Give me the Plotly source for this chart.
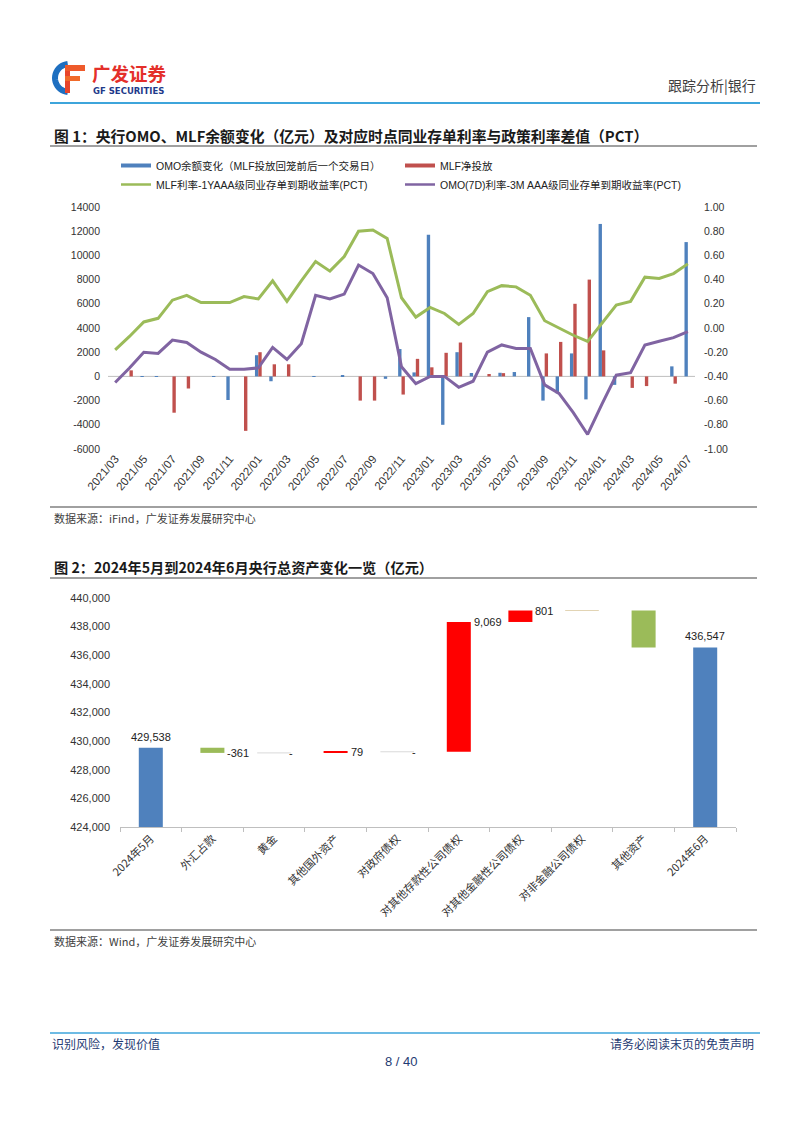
import plotly.graph_objects as go
import math

W, H = 802, 1133
# the page renders the figure 8px in from the top-left corner (body margin); compensate
OX, OY = 8, 8


def X(px):
    return (px - OX) / W


def Y(py):
    return 1 - (py - OY) / H


# ---------------- Chart 1 data ----------------
months = ["2021/03", "2021/04", "2021/05", "2021/06", "2021/07", "2021/08", "2021/09", "2021/10",
          "2021/11", "2021/12", "2022/01", "2022/02", "2022/03", "2022/04", "2022/05", "2022/06",
          "2022/07", "2022/08", "2022/09", "2022/10", "2022/11", "2022/12", "2023/01", "2023/02",
          "2023/03", "2023/04", "2023/05", "2023/06", "2023/07", "2023/08", "2023/09", "2023/10",
          "2023/11", "2023/12", "2024/01", "2024/02", "2024/03", "2024/04", "2024/05", "2024/06",
          "2024/07"]

omo_change = [0, 0, -50, -50, 0, 0, 0, -50, -1950, 0, 1750, -400, 0, 0, -50, 0, 50, 0, 0, -200,
              2260, 330, 11700, -4000, 2000, 280, 0, 300, 360, 4900, -2000, -1400, 1900, -1900,
              12600, -700, 0, 0, 0, 830, 11100]

mlf_net = [0, 500, 0, 0, -3000, -1000, 0, 0, 0, -4500, 2000, 1000, 1000, 0, 0, 0, 0, -2000, -2000,
           0, -1500, 1450, 750, 1950, 2800, 0, 200, 270, 0, 0, 1900, 2850, 6000, 8000, 2150, 0,
           -950, -800, 0, -600, 0]

mlf_spread = [-0.18, -0.07, 0.05, 0.08, 0.23, 0.27, 0.21, 0.21, 0.21, 0.26, 0.24, 0.39, 0.22, 0.39,
              0.55, 0.47, 0.59, 0.80, 0.81, 0.74, 0.25, 0.09, 0.17, 0.12, 0.03, 0.12, 0.30, 0.35,
              0.34, 0.27, 0.06, 0.00, -0.06, -0.11, 0.04, 0.19, 0.22, 0.42, 0.41, 0.45, 0.53]

omo_spread = [-0.45, -0.33, -0.20, -0.21, -0.10, -0.12, -0.20, -0.26, -0.34, -0.34, -0.33, -0.16,
              -0.26, -0.13, 0.27, 0.24, 0.28, 0.52, 0.45, 0.25, -0.32, -0.46, -0.40, -0.40, -0.49,
              -0.44, -0.20, -0.14, -0.17, -0.17, -0.47, -0.54, -0.70, -0.88, -0.63, -0.39, -0.37,
              -0.14, -0.11, -0.08, -0.03]

series_names = ["OMO余额变化（MLF投放回笼前后一个交易日）", "MLF净投放",
                "MLF利率-1YAAA级同业存单到期收益率(PCT)", "OMO(7D)利率-3M AAA级同业存单到期收益率(PCT)"]

left_ticks = [-6000, -4000, -2000, 0, 2000, 4000, 6000, 8000, 10000, 12000, 14000]
right_ticks = [-1.0, -0.8, -0.6, -0.4, -0.2, 0.0, 0.2, 0.4, 0.6, 0.8, 1.0]

# ---------------- Chart 2 data ----------------
cats2 = ["2024年5月", "外汇占款", "黄金", "其他国外资产", "对政府债权", "对其他存款性公司债权",
         "对其他金融性公司债权", "对非金融公司债权", "其他资产", "2024年6月"]
vals2 = [429538, -361, 0, 79, 0, 9069, 801, 0, -2579, 436547]
kinds2 = ["total", "delta", "delta", "delta", "delta", "delta", "delta", "delta", "delta", "total"]
labels2 = ["429,538", "-361", "-", "79", "-", "9,069", "801", "", "", "436,547"]
zero_colors2 = {2: "#D9D9D9", 4: "#D9D9D9", 7: "#E2D4B4"}
y2_ticks = [424000, 426000, 428000, 430000, 432000, 434000, 436000, 438000, 440000]

BLUE = "#4F81BD"
RED = "#C0504D"
GREEN = "#9BBB59"
PURPLE = "#8064A2"
FONT = "Liberation Sans, Noto Sans CJK SC, sans-serif"
CJK = "Noto Sans CJK SC, Liberation Sans, sans-serif"
TXT = "#333333"

fig = go.Figure()

# Chart 1 bars
fig.add_bar(x=months, y=omo_change, marker=dict(color=BLUE, line=dict(width=0)),
            name=series_names[0], showlegend=False, xaxis="x", yaxis="y")
fig.add_bar(x=months, y=mlf_net, marker=dict(color=RED, line=dict(width=0)),
            name=series_names[1], showlegend=False, xaxis="x", yaxis="y")
# Chart 1 lines
fig.add_scatter(x=months, y=mlf_spread, mode="lines", line=dict(color=GREEN, width=3),
                name=series_names[2], showlegend=False, xaxis="x", yaxis="y2")
fig.add_scatter(x=months, y=omo_spread, mode="lines", line=dict(color=PURPLE, width=3),
                name=series_names[3], showlegend=False, xaxis="x", yaxis="y2")

# legend entries (symbols styled like the original)
for name, color, w in zip(series_names, [BLUE, RED, GREEN, PURPLE], [4, 4, 2.5, 2.5]):
    fig.add_scatter(x=[None], y=[None], mode="lines", line=dict(color=color, width=w),
                    name=name, showlegend=True, xaxis="x", yaxis="y")

# Chart 2 waterfall built from data
bases, heights, ends, colors = [], [], [], []
run = 0
for v, k in zip(vals2, kinds2):
    if k == "total":
        bases.append(0)
        run = v
        colors.append(BLUE)
    else:
        bases.append(run)
        run += v
        colors.append("#FF0000" if v > 0 else GREEN)
    heights.append(v)
    ends.append(run)

BARW = 0.39
fig.add_bar(x=cats2, y=heights, base=bases, width=BARW,
            marker=dict(color=colors, line=dict(width=0)), showlegend=False,
            xaxis="x2", yaxis="y3", hoverinfo="skip")

zero_idx = [i for i, v in enumerate(vals2) if v == 0 and kinds2[i] == "delta"]
cat_px = (736 - 120) / len(cats2)
fig.add_scatter(x=[cats2[i] for i in zero_idx], y=[ends[i] for i in zero_idx], mode="markers",
                marker=dict(symbol="line-ew", size=BARW * cat_px,
                            line=dict(width=1, color=[zero_colors2[i] for i in zero_idx])),
                showlegend=False, xaxis="x2", yaxis="y3", hoverinfo="skip")

annotations = []
for i, lab in enumerate(labels2):
    if not lab:
        continue
    if kinds2[i] == "total":
        annotations.append(dict(x=cats2[i], y=ends[i], xref="x2", yref="y3", text=lab,
                                showarrow=False, xanchor="center", yanchor="bottom", yshift=3,
                                font=dict(family=FONT, size=11, color="#222222")))
    else:
        annotations.append(dict(x=cats2[i], y=ends[i], xref="x2", yref="y3", text=lab,
                                showarrow=False, xanchor="left", yanchor="middle",
                                xshift=BARW * cat_px / 2 + 1,
                                font=dict(family=FONT, size=11, color="#222222")))


def page_text(px, py, text, size, color="#1a1a1a", anchor="left", family=CJK):
    annotations.append(dict(x=X(px), y=Y(py), xref="paper", yref="paper", text=text,
                            showarrow=False, xanchor=anchor, yanchor="middle",
                            font=dict(family=family, size=size, color=color)))


page_text(90, 72.5, "<b>广发证券</b>", 18.5, "#E42F2A")
page_text(91, 91.5, "<b>GF SECURITIES</b>", 8.5, "#1F3A8A", family="DejaVu Sans, sans-serif")
page_text(758, 85, "跟踪分析|银行", 14, "#404040", anchor="right")
page_text(52, 136, "<b>图 1：央行OMO、MLF余额变化（亿元）及对应时点同业存单利率与政策利率差值（PCT）</b>", 14.8)
page_text(52, 518, "数据来源：iFind，广发证券发展研究中心", 11, "#404040")
page_text(52, 567, "<b>图 2：2024年5月到2024年6月央行总资产变化一览（亿元）</b>", 14.2)
page_text(52, 941, "数据来源：Wind，广发证券发展研究中心", 11, "#404040")
page_text(50, 1043, "识别风险，发现价值", 12, "#1F3B73")
page_text(756, 1043, "请务必阅读末页的免责声明", 12, "#1F3B73", anchor="right")
page_text(401, 1061, "8 / 40", 13, "#1F3B73", anchor="center", family=FONT)

shapes = []


def hline(py, x0, x1, color, width):
    shapes.append(dict(type="line", xref="paper", yref="paper", x0=X(x0), x1=X(x1),
                       y0=Y(py), y1=Y(py), line=dict(color=color, width=width)))


hline(103, 50, 760, "#3DA5DB", 2)
hline(146, 50, 757, "#808080", 1.5)
hline(507, 50, 757, "#808080", 1.5)
hline(578, 50, 757, "#808080", 1.5)
hline(930, 50, 757, "#808080", 1.5)
hline(1033, 50, 760, "#3DA5DB", 1.5)

# chart 1 horizontal category axis at zero
shapes.append(dict(type="line", xref="x domain", yref="y", x0=0, x1=1, y0=0, y1=0,
                   line=dict(color="#BFBFBF", width=1), layer="below"))

# logo icon (decorative)
arc = []
for k in range(0, 21):
    a = math.radians(95 + k * 8.5)
    arc.append((69 + 14 * math.cos(a), 78 - 14 * math.sin(a)))
path = "M " + " L ".join(f"{X(px):.5f},{Y(py):.5f}" for px, py in arc)
shapes.append(dict(type="path", xref="paper", yref="paper", path=path,
                   line=dict(color="#1E6FC0", width=6)))
shapes.append(dict(type="rect", xref="paper", yref="paper", x0=X(65), x1=X(70), y0=Y(93), y1=Y(66),
                   fillcolor="#E8452B", line=dict(width=0)))
shapes.append(dict(type="rect", xref="paper", yref="paper", x0=X(65), x1=X(85), y0=Y(71), y1=Y(65),
                   fillcolor="#EE5A2B", line=dict(width=0)))
shapes.append(dict(type="rect", xref="paper", yref="paper", x0=X(65), x1=X(80), y0=Y(81), y1=Y(76),
                   fillcolor="#F06A2A", line=dict(width=0)))

axis_common = dict(showgrid=False, zeroline=False, showline=False, automargin=False)

fig.update_layout(
    width=W, height=H, margin=dict(l=0, r=0, t=0, b=0, pad=0, autoexpand=False),
    paper_bgcolor="white", plot_bgcolor="white",
    barmode="group", bargap=0.53, bargroupgap=0,
    showlegend=True,
    legend=dict(orientation="h", x=X(116), y=Y(151), xanchor="left", yanchor="top",
                font=dict(family=FONT, size=10.5, color="#222222"), itemwidth=30,
                entrywidth=239, entrywidthmode="pixels", bgcolor="rgba(0,0,0,0)",
                tracegroupgap=0, itemclick=False),
    xaxis=dict(domain=[X(108), X(695)], anchor="y", type="category", range=[-0.5, 40.5],
               tickmode="array", tickvals=months[::2], ticktext=months[::2], tickangle=-50,
               ticks="", tickfont=dict(family=FONT, size=11.5, color=TXT), **axis_common),
    yaxis=dict(domain=[Y(449), Y(207)], anchor="x", range=[-6000, 14000], tickmode="array",
               tickvals=left_ticks, ticktext=[str(v) for v in left_ticks], ticks="",
               ticklabelstandoff=7, tickfont=dict(family=FONT, size=10.5, color=TXT), **axis_common),
    yaxis2=dict(overlaying="y", side="right", anchor="x", range=[-1, 1], tickmode="array",
                tickvals=right_ticks, ticktext=[f"{v:.2f}" for v in right_ticks], ticks="",
                ticklabelstandoff=8, tickfont=dict(family=FONT, size=10.5, color=TXT), **axis_common),
    xaxis2=dict(domain=[X(120), X(736)], anchor="y3", type="category", range=[-0.5, 9.5],
                tickangle=-45, showline=True, linecolor="#BFBFBF", linewidth=1, ticks="outside",
                tickson="boundaries", ticklen=4, tickcolor="#BFBFBF", showgrid=False, zeroline=False,
                automargin=False, tickfont=dict(family=CJK, size=11, color=TXT)),
    yaxis3=dict(domain=[Y(827), Y(598)], anchor="x2", range=[424000, 440000], tickmode="array",
                tickvals=y2_ticks, ticktext=[f"{v:,}" for v in y2_ticks], ticks="",
                ticklabelstandoff=9, tickfont=dict(family=FONT, size=11, color=TXT), **axis_common),
    annotations=annotations,
    shapes=shapes,
)

fig.write_html("out.html")
